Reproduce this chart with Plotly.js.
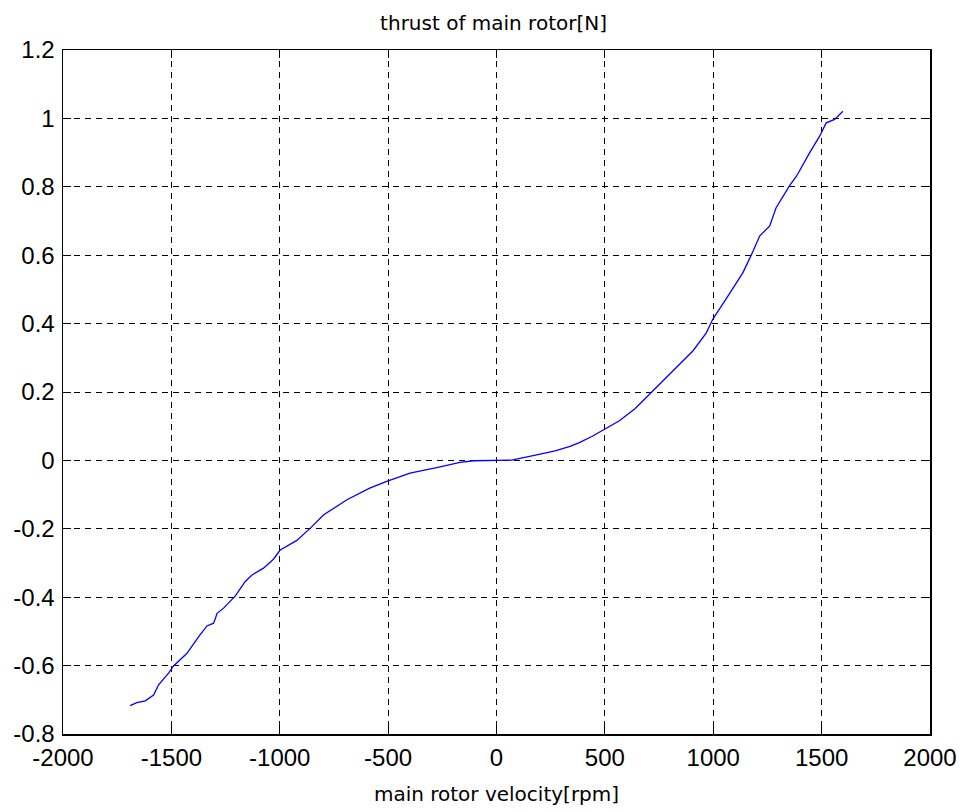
<!DOCTYPE html>
<html>
<head>
<meta charset="utf-8">
<script src="https://cdn.plot.ly/plotly-3.0.1.min.js"></script>
<style>html,body{margin:0;padding:0;background:#fff;}#chart{width:964px;height:812px;}</style>
</head>
<body>
<div id="chart"></div>
<script>
const velocity = [-1690, -1660, -1620, -1582, -1559, -1513, -1490, -1428, -1374, -1336, -1305, -1289, -1259, -1205, -1159, -1128, -1075, -1029, -998, -921, -859, -797, -690, -585, -500, -399, -276, -168, -106, -40, 20, 70, 185, 270, 339, 382, 440, 500, 567, 640, 722, 782, 814, 906, 968, 999, 1061, 1137, 1184, 1214, 1260, 1290, 1353, 1384, 1445, 1491, 1521, 1560, 1598];
const thrust   = [-0.717, -0.708, -0.703, -0.686, -0.656, -0.622, -0.601, -0.564, -0.515, -0.484, -0.476, -0.447, -0.432, -0.396, -0.354, -0.335, -0.315, -0.289, -0.262, -0.234, -0.198, -0.159, -0.115, -0.081, -0.060, -0.037, -0.021, -0.006, -0.001, 0.000, 0.000, 0.001, 0.016, 0.028, 0.041, 0.052, 0.070, 0.091, 0.116, 0.152, 0.203, 0.242, 0.261, 0.320, 0.373, 0.414, 0.474, 0.549, 0.612, 0.656, 0.685, 0.739, 0.804, 0.831, 0.900, 0.948, 0.987, 0.997, 1.021];
const xTicks = [-2000, -1500, -1000, -500, 0, 500, 1000, 1500, 2000];
const yTicks = [-0.8, -0.6, -0.4, -0.2, 0, 0.2, 0.4, 0.6, 0.8, 1, 1.2];
const yTickText = ['-0.8', '-0.6', '-0.4', '-0.2', '0', '0.2', '0.4', '0.6', '0.8', '1', '1.2'];

const tickFont = {family: 'Liberation Sans, Arial, sans-serif', size: 24, color: '#000'};
const titleFont = {family: 'DejaVu Sans, sans-serif', size: 20, color: '#000'};

const axisCommon = {
  showline: true, linecolor: '#000', linewidth: 1.5, mirror: 'ticks',
  ticks: 'inside', ticklen: 8, tickwidth: 1, tickcolor: '#000',
  showgrid: true, gridcolor: '#000', gridwidth: 1, griddash: '6px,5px',
  zeroline: false, tickfont: tickFont
};

Plotly.newPlot('chart', [{
  x: velocity, y: thrust, type: 'scatter', mode: 'lines',
  line: {color: '#0000ff', width: 1.3}, hoverinfo: 'skip'
}], {
  width: 964, height: 812,
  paper_bgcolor: '#fff', plot_bgcolor: '#fff',
  margin: {l: 63, r: 34, t: 50, b: 78},
  showlegend: false,
  title: {text: 'thrust of main rotor[N]', font: titleFont, x: 0.512, xanchor: 'center', y: 0.972, yanchor: 'middle'},
  xaxis: Object.assign({}, axisCommon, {
    range: [-2000, 2000], tickvals: xTicks, ticktext: xTicks.map(String),
    ticklabelstandoff: 2,
    title: {text: 'main rotor velocity[rpm]', font: titleFont, standoff: 16}
  }),
  yaxis: Object.assign({}, axisCommon, {
    range: [-0.8, 1.2], tickvals: yTicks, ticktext: yTickText, ticklabelstandoff: 2
  })
}, {displayModeBar: false, staticPlot: true});
</script>
</body>
</html>
